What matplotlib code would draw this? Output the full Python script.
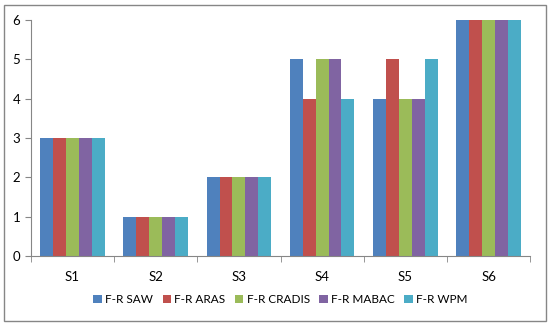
import numpy as np
import matplotlib.pyplot as plt
from matplotlib.patches import Rectangle

# data
categories = ['S1', 'S2', 'S3', 'S4', 'S5', 'S6']
series = ['F-R SAW', 'F-R ARAS', 'F-R CRADIS', 'F-R MABAC', 'F-R WPM']
saw = [3, 1, 2, 5, 4, 6]
aras = [3, 1, 2, 4, 5, 6]
cradis = [3, 1, 2, 5, 4, 6]
mabac = [3, 1, 2, 5, 4, 6]
wpm = [3, 1, 2, 4, 5, 6]
values = [saw, aras, cradis, mabac, wpm]
colors = ['#4F81BD', '#C0504D', '#9BBB59', '#8064A2', '#4BACC6']

plt.rcParams['font.family'] = ['Lato', 'DejaVu Sans']

fig = plt.figure(figsize=(5.5, 3.26), dpi=100)
ax = fig.add_axes([0.056, 0.215, 0.908, 0.724])

x = np.arange(len(categories))
w = 0.155
for i, (name, vals) in enumerate(zip(series, values)):
    ax.bar(x + (i - 2) * w, vals, w, color=colors[i], label=name)

ax.set_xlim(-0.5, len(categories) - 0.5)
ax.set_ylim(0, 6)
ax.set_xticks(x)
ax.set_xticklabels(categories, fontsize=9.5)
ax.set_xticks(np.arange(-0.5, len(categories)), minor=True)
ax.tick_params(axis='x', which='major', length=0, pad=11)
ax.tick_params(axis='x', which='minor', length=4, color='#868686', direction='out')
ax.tick_params(axis='y', length=4, color='#868686', labelsize=9.5)
ax.set_yticks(range(7))

for s in ['top', 'right']:
    ax.spines[s].set_visible(False)
for s in ['left', 'bottom']:
    ax.spines[s].set_color('#868686')

ax.legend(loc='center', bbox_to_anchor=(0.5, -44 / 236), ncol=5, frameon=False,
          fontsize=8.5, handlelength=0.7, handleheight=0.7, columnspacing=0.8,
          handletextpad=0.3)

fig.patches.append(Rectangle((4 / 550, 5 / 326), 542 / 550, 316 / 326,
                             transform=fig.transFigure, fill=False,
                             edgecolor='#868686', linewidth=1))

fig.savefig('out.png', dpi=100)
